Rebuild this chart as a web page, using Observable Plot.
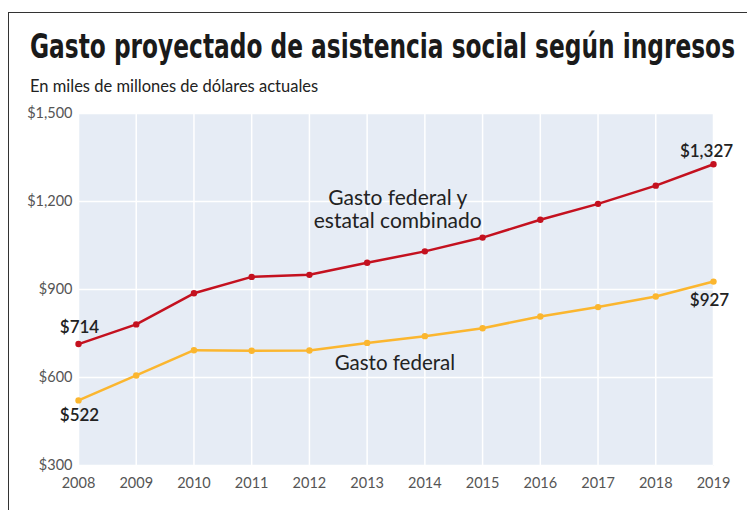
<!DOCTYPE html>
<html>
<head>
<meta charset="utf-8">
<script src="https://cdn.jsdelivr.net/npm/d3@7"></script>
<script src="https://cdn.jsdelivr.net/npm/@observablehq/plot@0.6"></script>
<style>
  html, body { margin: 0; padding: 0; background: #fff; }
  body { width: 747px; height: 510px; position: relative; overflow: hidden; font-family: Lato, "Open Sans", sans-serif; }
  #frame { position: absolute; left: 8px; top: 12px; width: 760px; height: 520px; border-top: 1.5px solid #333; border-left: 1.5px solid #333; }
  #title { position: absolute; left: 30px; top: 26px; font-family: "Liberation Sans Narrow", "DejaVu Sans Condensed", sans-serif; font-weight: bold; font-size: 34px; color: #1a1a1a; white-space: nowrap; transform-origin: left top; }
  #subtitle { position: absolute; left: 30px; top: 76px; font-size: 16.5px; color: #222; white-space: nowrap; }
  #chart { position: absolute; left: 0; top: 100px; }
</style>
</head>
<body>
<div id="frame"></div>
<div id="title">Gasto proyectado de asistencia social según ingresos</div>
<div id="subtitle">En miles de millones de dólares actuales</div>
<div id="chart"></div>
<script>
const years = [2008, 2009, 2010, 2011, 2012, 2013, 2014, 2015, 2016, 2017, 2018, 2019];
const combined = [714, 781, 887, 943, 950, 991, 1030, 1077, 1138, 1192, 1254, 1327];
const federal = [522, 607, 693, 691, 692, 718, 741, 768, 808, 840, 876, 927];
const yTicks = [300, 600, 900, 1200, 1500];
const seriesNames = ["Gasto federal y\nestatal combinado", "Gasto federal"];
const colors = ["#c4111f", "#fbb62f"];

const rowsC = years.map((y, i) => ({year: y, value: combined[i]}));
const rowsF = years.map((y, i) => ({year: y, value: federal[i]}));
const money = d => "$" + d3.format(",")(d);

const endText = (year, value, dx, dy) =>
  Plot.text([{year, value}], {x: "year", y: "value", text: d => money(d.value), dx, dy, fontSize: 17, fontWeight: 600, fill: "#222"});

const chart = Plot.plot({
  width: 747,
  height: 410,
  marginTop: 13,
  marginBottom: 45,
  marginLeft: 78,
  marginRight: 34,
  style: {fontFamily: "Lato, 'Open Sans', sans-serif", background: "transparent"},
  x: {domain: [2008, 2019], ticks: years, tickFormat: d3.format("d"), label: null, tickSize: 0, tickPadding: 12},
  y: {domain: [300, 1500], ticks: yTicks, tickFormat: money, label: null, tickSize: 0, tickPadding: 6},
  marks: [
    Plot.frame({fill: "#e6ecf5", stroke: null}),
    Plot.gridX(years, {stroke: "#fff", strokeOpacity: 1, strokeWidth: 1.5}),
    Plot.gridY(yTicks, {stroke: "#fff", strokeOpacity: 1, strokeWidth: 1.5}),
    Plot.axisX({ticks: years, tickFormat: d3.format("d"), tickSize: 0, tickPadding: 12, fontSize: 14.5, fill: "#555", label: null}),
    Plot.axisY({ticks: yTicks, tickFormat: money, tickSize: 0, tickPadding: 6, fontSize: 14.5, fill: "#555", label: null}),
    Plot.line(rowsF, {x: "year", y: "value", stroke: colors[1], strokeWidth: 2.5}),
    Plot.dot(rowsF, {x: "year", y: "value", fill: colors[1], r: 3.2}),
    Plot.line(rowsC, {x: "year", y: "value", stroke: colors[0], strokeWidth: 2.5}),
    Plot.dot(rowsC, {x: "year", y: "value", fill: colors[0], r: 3.2}),
    endText(years[0], combined[0], 1, -17),
    endText(years[0], federal[0], 1, 15),
    endText(years[11], combined[11], -7, -13),
    endText(years[11], federal[11], -4, 19),
    Plot.text([{x: 2013.53, y: 1173, t: seriesNames[0]}], {x: "x", y: "y", text: "t", fontSize: 21, fill: "#222", lineHeight: 1.08}),
    Plot.text([{x: 2013.48, y: 648, t: seriesNames[1]}], {x: "x", y: "y", text: "t", fontSize: 20.5, fill: "#222"})
  ]
});
document.getElementById("chart").appendChild(chart);

// fit title width to the reference span
const t = document.getElementById("title");
const w = t.getBoundingClientRect().width;
t.style.transform = `scaleX(${705 / w})`;
</script>
</body>
</html>
